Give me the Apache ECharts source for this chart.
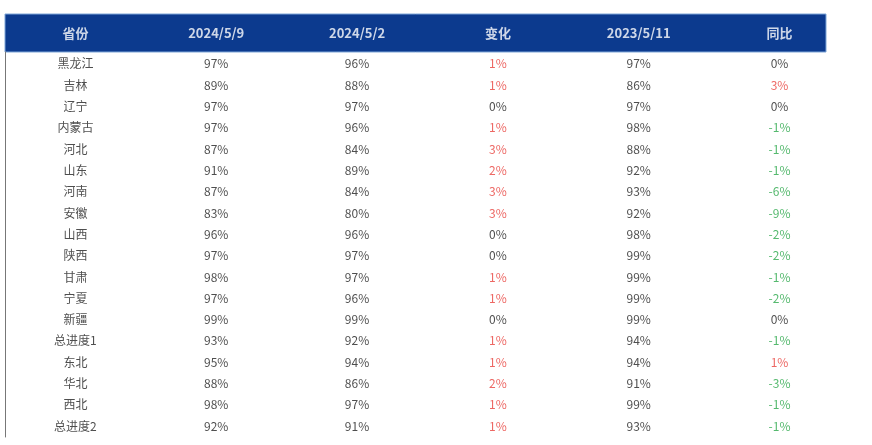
<!DOCTYPE html>
<html><head><meta charset="utf-8">
<script src="https://cdn.jsdelivr.net/npm/echarts@6/dist/echarts.min.js"></script>
<style>html,body{margin:0;padding:0;background:#fff}#c{width:872px;height:445px}</style>
</head><body><div id="c"></div>
<script>
const headers = ['省份','2024/5/9','2024/5/2','变化','2023/5/11','同比'];
const provinces = ['黑龙江','吉林','辽宁','内蒙古','河北','山东','河南','安徽','山西','陕西','甘肃','宁夏','新疆','总进度1','东北','华北','西北','总进度2'];
const v20240509 = [97,89,97,97,87,91,87,83,96,97,98,97,99,93,95,88,98,92];
const v20240502 = [96,88,97,96,84,89,84,80,96,97,97,96,99,92,94,86,97,91];
const change =    [1,1,0,1,3,2,3,3,0,0,1,1,0,1,1,2,1,1];
const v20230511 = [97,86,97,98,88,92,93,92,98,99,99,99,99,94,94,91,99,93];
const yoy =       [0,3,0,-1,-1,-1,-6,-9,-2,-2,-1,-2,0,-1,1,-3,-1,-1];

const sign = v => v > 0 ? '#e8413c' : (v < 0 ? '#2aa84a' : '#222');
const body = [];
provinces.forEach((p, i) => {
  body.push({value:[0,i], name:p, label:{color:'#222'}});
  body.push({value:[1,i], name:v20240509[i]+'%', label:{color:'#222'}});
  body.push({value:[2,i], name:v20240502[i]+'%', label:{color:'#222'}});
  body.push({value:[3,i], name:change[i]+'%', label:{color:sign(change[i])}});
  body.push({value:[4,i], name:v20230511[i]+'%', label:{color:'#222'}});
  body.push({value:[5,i], name:yoy[i]+'%', label:{color:sign(yoy[i])}});
});
const head = headers.map((h, k) => ({value:[k,0], name:h}));

const xa = (g) => ({type:'value', gridIndex:g, min:-0.5, max:5.33, show:false});
const chart = echarts.init(document.getElementById('c'));
chart.setOption({
  animation:false,
  grid:[
    {left:5, right:46, top:14, height:38, show:true, backgroundColor:'#0c3a8e', borderColor:'#7fa6d8', borderWidth:1},
    {left:5, right:46, top:52, bottom:8}
  ],
  xAxis:[xa(0), xa(1)],
  yAxis:[
    {type:'value', gridIndex:0, min:-0.5, max:0.5, show:false},
    {type:'value', gridIndex:1, min:-0.56, max:17.51, inverse:true, splitLine:{show:false},
     axisLabel:{show:false}, axisTick:{show:false}, axisLine:{show:true, onZero:false, lineStyle:{color:'#777'}}}
  ],
  series:[
    {type:'scatter', xAxisIndex:0, yAxisIndex:0, symbolSize:0, data:head,
     label:{show:true, position:'inside', formatter:p=>p.name, color:'#fff', fontWeight:'bold', fontSize:13, fontFamily:'Noto Sans CJK SC'}},
    {type:'scatter', xAxisIndex:1, yAxisIndex:1, symbolSize:0, data:body,
     label:{show:true, position:'inside', formatter:p=>p.name, fontSize:12, fontFamily:'Noto Sans CJK SC'}}
  ]
});
</script></body></html>
